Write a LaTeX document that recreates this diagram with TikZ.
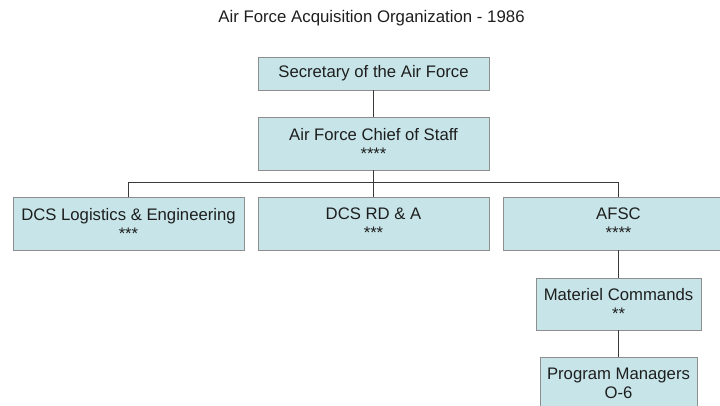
\documentclass[tikz,border=0pt]{standalone}
\usepackage{fontspec}
\setmainfont{Liberation Sans}
\definecolor{boxfill}{HTML}{C7E5E9}
\definecolor{boxline}{HTML}{8E8E8E}
\definecolor{connline}{HTML}{3A3A3A}
\definecolor{txt}{HTML}{1E1E1E}
\begin{document}
\begin{tikzpicture}[x=1pt,y=-1pt,
  orgbox/.style={draw=boxline,line width=0.9pt,fill=boxfill,inner sep=0pt,align=center,
    text=txt,font=\fontsize{16.7pt}{19pt}\selectfont},
  conn/.style={draw=connline,line width=1pt},
  titletext/.style={text=txt,font=\fontsize{16.8pt}{19pt}\selectfont,inner sep=0pt}]
\useasboundingbox (0,0) rectangle (720,406);
\clip (0,0) rectangle (720,406);
\node[titletext] (title) at (371.5,18) {Air Force Acquisition Organization - 1986};
\node[orgbox,minimum width=231pt,minimum height=33pt] (sec) at (373.5,73.5) {Secretary of the Air Force};
\node[orgbox,minimum width=231pt,minimum height=53pt] (chief) at (373.5,143.5) {Air Force Chief of Staff\\****};
\node[orgbox,minimum width=231pt,minimum height=53pt] (dle) at (128.5,223.5) {DCS Logistics \& Engineering\\***};
\node[orgbox,minimum width=231pt,minimum height=53pt] (rda) at (373.5,223.5) {DCS RD \& A\\***};
\node[orgbox,minimum width=231pt,minimum height=53pt] (afsc) at (618.5,223.5) {AFSC\\****};
\node[orgbox,minimum width=165pt,minimum height=52pt] (mat) at (618.5,304) {Materiel Commands\\**};
\node[orgbox,minimum width=157pt,minimum height=52pt] (pm) at (618.5,383) {Program Managers\\O-6};
\coordinate (bar) at (0,183);
\draw[conn] (sec.south) -- (chief.north);
\draw[conn] (chief.south) -- (rda.north);
\draw[conn] (dle.north) -- (dle.north |- bar) -- (afsc.north |- bar) -- (afsc.north);
\draw[conn] (afsc.south) -- (mat.north);
\draw[conn] (mat.south) -- (pm.north);
\end{tikzpicture}
\end{document}
